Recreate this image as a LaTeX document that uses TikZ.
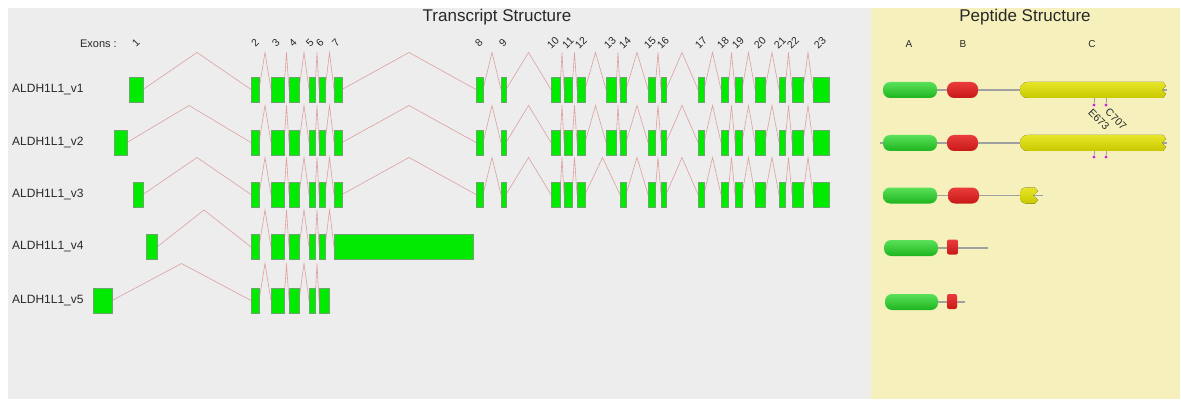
\documentclass[tikz,border=0pt]{standalone}
\usepackage{fontspec}
\setmainfont{Liberation Sans}
\usetikzlibrary{calc}
\pgfdeclarelayer{bg}
\pgfdeclarelayer{links}
\pgfsetlayers{bg,links,main}
\definecolor{panelgrey}{RGB}{237,237,237}
\definecolor{panelyellow}{RGB}{246,241,188}
\definecolor{exongreen}{RGB}{0,235,0}
\definecolor{exonedge}{RGB}{110,165,110}
\definecolor{intronred}{RGB}{222,160,160}
\definecolor{domgreenT}{RGB}{90,225,90}
\definecolor{domgreenB}{RGB}{30,180,30}
\definecolor{domredT}{RGB}{235,60,60}
\definecolor{domredB}{RGB}{200,25,25}
\definecolor{domyelT}{RGB}{230,230,40}
\definecolor{domyelB}{RGB}{200,200,0}
\definecolor{linkgrey}{RGB}{160,160,160}
\definecolor{sitemag}{RGB}{200,40,220}
\definecolor{txt}{RGB}{40,40,40}
\tikzset{
  exon/.style={draw=exonedge, line width=0.5pt, fill=exongreen, inner sep=0pt, outer sep=0pt, minimum height=25pt},
  intron/.style={draw=intronred, line width=0.6pt},
  rowlabel/.style={anchor=west, inner sep=0pt, text=txt, font=\fontsize{12}{14}\selectfont},
  exnum/.style={rotate=45, inner sep=0pt, text=txt, font=\fontsize{10.5}{12}\selectfont},
  domlabel/.style={inner sep=0pt, text=txt, font=\fontsize{10}{12}\selectfont},
  ttl/.style={inner sep=0pt, text=txt, font=\fontsize{17}{20}\selectfont},
  dom/.style={inner sep=0pt, outer sep=0pt, minimum height=16pt, rounded corners=7pt},
  domA/.style={dom, top color=domgreenT, bottom color=domgreenB},
  domB/.style={dom, top color=domredT, bottom color=domredB},
  domBs/.style={dom, rounded corners=2pt, minimum height=15pt, top color=domredT, bottom color=domredB},
  domC/.style={top color=domyelT, bottom color=domyelB},
  link/.style={draw=linkgrey, line width=1.4pt},
  site/.style={circle, fill=sitemag, inner sep=0pt, minimum size=3.2pt},
  tick/.style={draw=linkgrey, line width=0.4pt},
  sitelabel/.style={rotate=-45, anchor=west, inner sep=0pt, text=txt, font=\fontsize{10.5}{12}\selectfont},
}
\newcommand\exonrow[3]{%
  \foreach \a/\b [count=\i] in {#3} {
    \node[exon, minimum width={(\b-\a)*1pt}] (#1-\i) at ({(\a+\b)/2},#2) {};
    \ifnum\i>1
      \pgfmathtruncatemacro\j{\i-1}
      \begin{pgfonlayer}{links}
      \draw[intron] (#1-\j.east) -- ($(#1-\j.east)!0.5!(#1-\i.west)+(0,-37)$) -- (#1-\i.west);
      \end{pgfonlayer}
    \fi
  }}
\begin{document}
\begin{tikzpicture}[x=1pt,y=-1pt]
\useasboundingbox (0,0) rectangle (1181,401);
\begin{pgfonlayer}{bg}
\fill[white] (0,0) rectangle (1181,401);
\fill[panelgrey] (8,8) rectangle (871,399);
\fill[panelyellow] (871,8) rectangle (1180,399);
\end{pgfonlayer}

% titles
\node[ttl] (t1) at (497,17) {Transcript Structure};
\node[ttl] (t2) at (1025,17) {Peptide Structure};

% exon numbers
\node[inner sep=0pt, anchor=east, text=txt, font=\fontsize{11}{13}\selectfont] (exl) at (117,44) {Exons :};
\foreach \n/\x in {1/136,2/255,3/276,4/293,5/310,6/320,7/336,8/479,9/503,10/553,11/568,12/581,13/610,14/625,15/650,16/663,17/701,18/723,19/738,20/760,21/780,22/793,23/820}
  \node[exnum] (n\n) at (\x,43) {\n};

% row labels
\node[rowlabel] (l1) at (12,89.5) {ALDH1L1\_v1};
\node[rowlabel] (l2) at (12,142.5) {ALDH1L1\_v2};
\node[rowlabel] (l3) at (12,194.5) {ALDH1L1\_v3};
\node[rowlabel] (l4) at (12,247) {ALDH1L1\_v4};
\node[rowlabel] (l5) at (12,300.5) {ALDH1L1\_v5};

% transcripts
\exonrow{ra}{89.5}{129/143,251/259,271/284,289/299,309/315,319/325,334/342,476/483,501/506,551/560,564/572,577/585,606/616,620/626,648/655,661/666,698/704,721/728,735/742,755/765,779/785,792/803,813/829}
\exonrow{rb}{142.5}{114/127,251/259,271/284,289/299,309/315,319/325,334/342,476/483,501/506,551/560,564/572,577/585,606/616,620/626,648/655,661/666,698/704,721/728,735/742,755/765,779/785,792/803,813/829}
\exonrow{rc}{194.5}{133/143,251/259,271/284,289/299,309/315,319/325,334/342,476/483,501/506,551/560,564/572,577/585,620/626,648/655,661/666,698/704,721/728,735/742,755/765,779/785,792/803,813/829}
\exonrow{rd}{247}{146/157,251/259,271/284,289/299,309/315,319/325,334/473}
\exonrow{re}{300.5}{93/112,251/259,271/284,289/299,309/315,319/329}

% peptide letters
\node[domlabel] (hA) at (909,44) {A};
\node[domlabel] (hB) at (963,44) {B};
\node[domlabel] (hC) at (1092,44) {C};

% peptide v1
\node[domA, minimum width=54pt] (p1A) at (910,90) {};
\node[domB, minimum width=31pt] (p1B) at (962.5,90) {};
\coordinate (p1C) at (1020,90);
\coordinate (p1E) at (1167,90);
\fill[domC] (1163,82) [rounded corners=7.5pt] -- (1020,82) -- (1020,98) [sharp corners] -- (1163,98) -- (1166,94) -- (1162,90) -- (1166,86) -- cycle;
\begin{pgfonlayer}{links}
\draw[link] (p1A.west) -- (p1E);
\end{pgfonlayer}

% peptide v2
\coordinate (p2S) at (880,143);
\node[domA, minimum width=54pt] (p2A) at (910,143) {};
\node[domB, minimum width=31pt] (p2B) at (962.5,143) {};
\coordinate (p2E) at (1167,143);
\fill[domC] (1163,135) [rounded corners=7.5pt] -- (1020,135) -- (1020,151) [sharp corners] -- (1163,151) -- (1166,147) -- (1162,143) -- (1166,139) -- cycle;
\begin{pgfonlayer}{links}
\draw[link] (p2S) -- (p2E);
\end{pgfonlayer}

% peptide v3
\node[domA, minimum width=54pt] (p3A) at (910,195.5) {};
\node[domB, minimum width=31pt] (p3B) at (963.5,195.5) {};
\coordinate (p3E) at (1043,195.5);
\fill[domC] (1035,187.5) [rounded corners=6pt] -- (1020,187.5) -- (1020,203.5) [sharp corners] -- (1035,203.5) -- (1038,200) -- (1033,195.5) -- (1038,191) -- cycle;
\begin{pgfonlayer}{links}
\draw[link] (p3A.west) -- (p3E);
\end{pgfonlayer}

% peptide v4
\node[domA, minimum width=54pt] (p4A) at (911,248) {};
\node[domBs, minimum width=11pt] (p4B) at (952.5,247) {};
\coordinate (p4E) at (988,248);
\begin{pgfonlayer}{links}
\draw[link] (p4A.west) -- (p4E);
\end{pgfonlayer}

% peptide v5
\node[domA, minimum width=53pt] (p5A) at (911.5,302) {};
\node[domBs, minimum width=10pt] (p5B) at (952,301.5) {};
\coordinate (p5E) at (965,302);
\begin{pgfonlayer}{links}
\draw[link] (p5A.west) -- (p5E);
\end{pgfonlayer}

% sites
\node[site] (s1) at (1094,105) {};
\node[site] (s2) at (1106,105) {};
\node[site] (s3) at (1094,157) {};
\node[site] (s4) at (1106,157) {};
\coordinate (s1t) at (1094,98);
\coordinate (s2t) at (1106,98);
\coordinate (s3t) at (1094,151);
\coordinate (s4t) at (1106,151);
\begin{pgfonlayer}{links}
\draw[tick] (s1t) -- (s1);
\draw[tick] (s2t) -- (s2);
\draw[tick] (s3t) -- (s3);
\draw[tick] (s4t) -- (s4);
\end{pgfonlayer}
\node[sitelabel] (e673) at (1090,111) {E673};
\node[sitelabel] (c707) at (1107,110) {C707};
\end{tikzpicture}
\end{document}
